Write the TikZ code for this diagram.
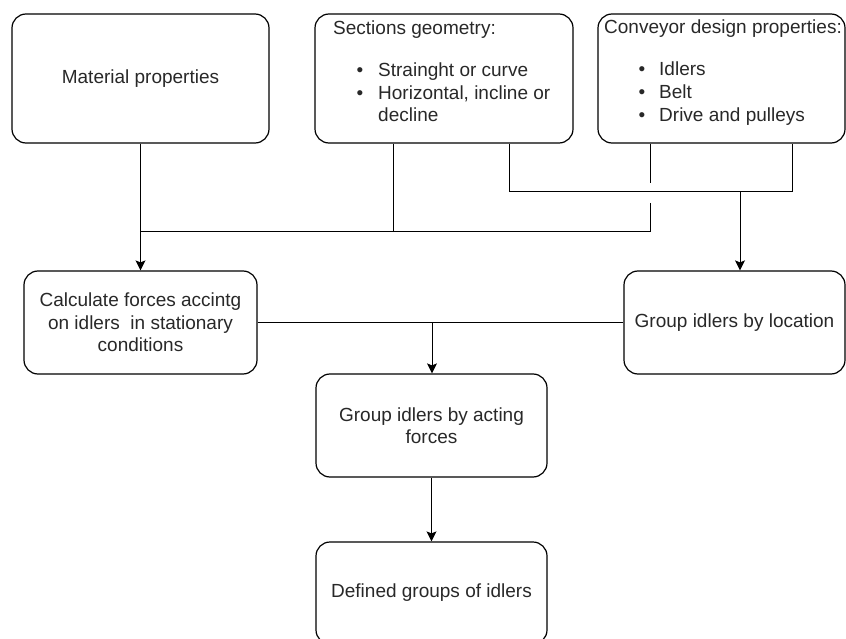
\documentclass[tikz,border=0pt]{standalone}
\usepackage{fontspec}
\setmainfont{Liberation Sans}
\usetikzlibrary{arrows.meta,calc}
\definecolor{txt}{RGB}{40,40,40}
\begin{document}
\begin{tikzpicture}[x=1pt,y=-1pt,
  box/.style={draw=black, line width=1.2pt, rounded corners=14pt, align=center,
    font=\fontsize{19}{22.5}\selectfont, text=txt, inner sep=0pt},
  lbl/.style={anchor=mid west, inner sep=0pt, font=\fontsize{19}{22.5}\selectfont, text=txt},
  bul/.style={anchor=mid, inner sep=0pt, font=\fontsize{19}{22.5}\selectfont, text=txt},
  conn/.style={draw=black, line width=1pt},
  arr/.style={conn, -{Stealth[length=10pt,width=10pt,inset=2pt]}}]
\useasboundingbox (0,0) rectangle (846,639);
% boxes
\node[box, minimum width=257pt, minimum height=129pt] (b1) at (140.5,78.5) {Material properties};
\node[box, minimum width=258pt, minimum height=129pt] (b2) at (444,78.5) {};
\node[box, minimum width=247pt, minimum height=129pt] (b3) at (721.5,78.5) {};
\node[box, minimum width=233pt, minimum height=103pt] (calc) at (140.5,322.5)
  {Calculate forces accintg\\on idlers\ \ in stationary\\conditions};
\node[box, minimum width=221pt, minimum height=103pt] (loc) at (734.5,322.5) {Group idlers by location};
\node[box, minimum width=231pt, minimum height=103pt] (act) at (431.5,425.5) {Group idlers by acting\\forces};
\node[box, minimum width=231pt, minimum height=102pt] (def) at (431.5,593) {Defined groups of idlers};
% list texts
\node[lbl] (s0) at (333,31.5) {Sections geometry:};
\node[bul] (s1b) at (360,73.5) {\textbullet};
\node[lbl] (s1) at (378,73.5) {Strainght or curve};
\node[bul] (s2b) at (360,96.5) {\textbullet};
\node[lbl] (s2) at (378,96.5) {Horizontal, incline or};
\node[lbl] (s3) at (378,118.5) {decline};
\node[lbl] (c0) at (604,31) {Conveyor design properties:};
\node[bul] (c1b) at (642,72.5) {\textbullet};
\node[lbl] (c1) at (659,72.5) {Idlers};
\node[bul] (c2b) at (642,95.5) {\textbullet};
\node[lbl] (c2) at (659,95.5) {Belt};
\node[bul] (c3b) at (642,118.5) {\textbullet};
\node[lbl] (c3) at (659,118.5) {Drive and pulleys};
% junction coordinates
\coordinate (jL) at (140.5,232);
\coordinate (jA) at (393,232);
\coordinate (jB) at (650,232);
\coordinate (gapT) at (650,183);
\coordinate (gapB) at (650,203);
\coordinate (uL) at (509,192);
\coordinate (uR) at (792,192);
\coordinate (uA) at (740,192);
\coordinate (mJ) at (432,322.5);
% connectors
\draw[conn] (b1.south) -- (jL);
\draw[arr] (jL) -- (calc.north);
\draw[conn] (b2.south -| jA) -- (jA);
\draw[conn] (b3.south -| jB) -- (gapT);
\draw[conn] (gapB) -- (jB) -- (jL);
\draw[conn] (b2.south -| uL) -- (uL) -- (uR) -- (b3.south -| uR);
\draw[arr] (uA) -- (loc.north -| uA);
\draw[conn] (calc.east) -- (loc.west);
\draw[arr] (mJ) -- (act.north -| mJ);
\draw[arr] (act.south) -- (def.north);
\end{tikzpicture}
\end{document}
